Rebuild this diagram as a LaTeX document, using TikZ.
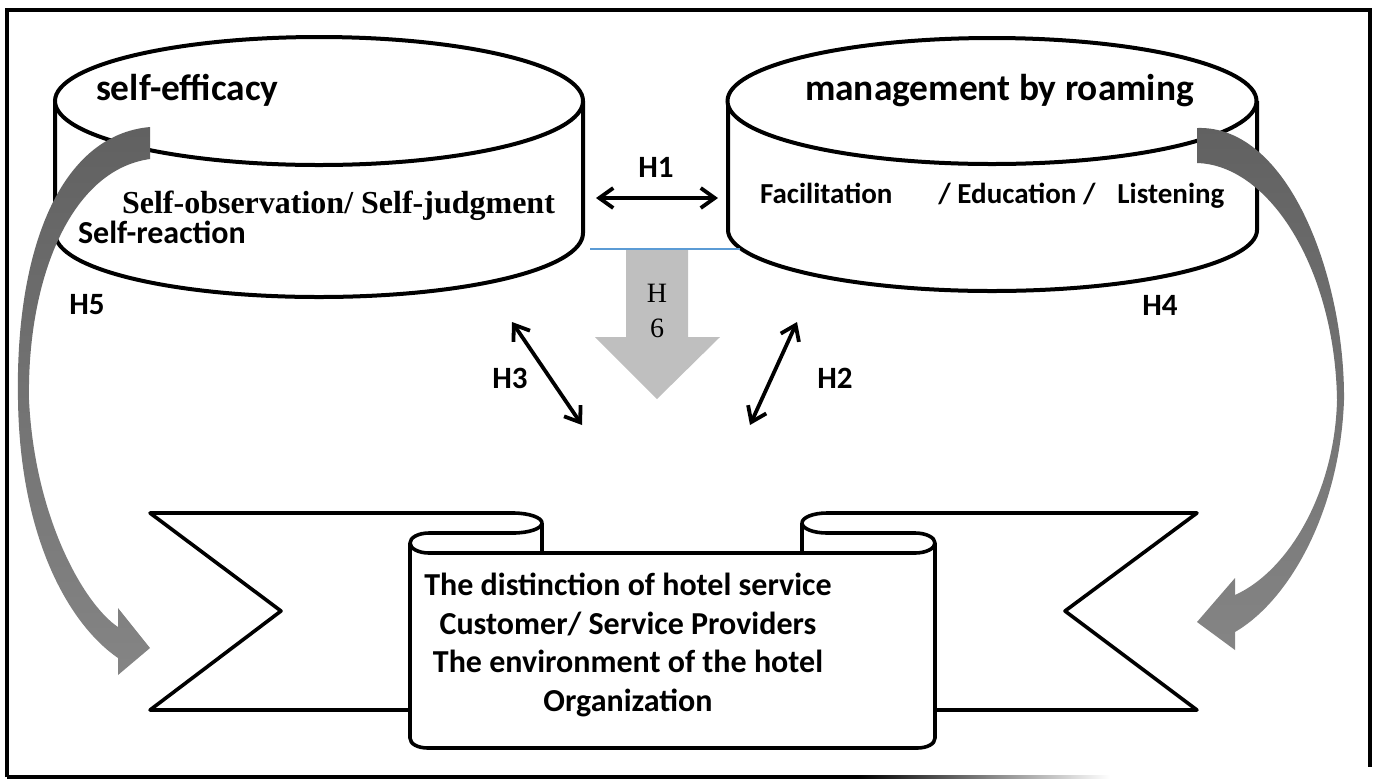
\documentclass[tikz,border=0pt]{standalone}
\usepackage{fontspec}
\setmainfont{Carlito}
\newfontfamily\timesfont{Liberation Serif}
\usetikzlibrary{arrows.meta}
\tikzstyle{outline} = [line width=2pt, fill=white]
\tikzstyle{band} = [line width=1.8pt, line join=round, fill=white]
\tikzstyle{hyp} = [{Straight Barb[length=7pt,width=10pt]}-{Straight Barb[length=7pt,width=10pt]}, line width=1.9pt]
\tikzstyle{hlabel} = [font=\bfseries\fontsize{15.5}{18}\selectfont]
\tikzstyle{title} = [anchor=base west, font=\bfseries\fontsize{18.7}{22}\selectfont]
\tikzstyle{bigarrow} = [top color=black!62, bottom color=black!48, draw=none]

\begin{document}
\begin{tikzpicture}[x=0.5pt,y=-0.5pt]
  \useasboundingbox (0,0) rectangle (1375,783);
  % frame
  \draw[line width=1.6pt] (7,777) -- (7,10) -- (1370,10) -- (1370,767);
  \draw[line width=1.9pt] (7,777) -- (860,777);
  \shade[left color=black, right color=white] (858,775.1) rectangle (1110,778.9);

  % the two cylinders
  \draw[outline] (55,101) -- (55,233) .. controls (55,269) and (173,297) .. (319,297) .. controls (465,297) and (583,269) .. (583,233) -- (583,101);
  \draw[outline] (319,101) ellipse [x radius=264, y radius=64];
  \draw[outline] (728,101) -- (728,230) .. controls (728,263) and (846,291) .. (992,291) .. controls (1139,291) and (1257,263) .. (1257,230) -- (1257,101);
  \draw[outline] (992,101) ellipse [x radius=264.5, y radius=63];

  % the scroll
  \draw[band] (410,710) -- (150,710) -- (281,611) -- (150,513) -- (513,513) .. controls (529,513) and (542,517.5) .. (542,523) .. controls (542,528.5) and (529,533) .. (513,533) -- (429,533) .. controls (418.5,533) and (410,537.5) .. (410,543);
  \draw[band] (542,523) -- (542,553);
  \draw[band] (935,710) -- (1197,710) -- (1065,611) -- (1197,513) -- (827,513) .. controls (813,513) and (802,517.5) .. (802,523) .. controls (802,528.5) and (813,533) .. (827,533) -- (915,533) .. controls (926,533) and (935,537.5) .. (935,543);
  \draw[band] (802,523) -- (802,553);
  \draw[band] (410,543) .. controls (410,548.5) and (418.5,553) .. (429,553) -- (915,553) .. controls (926,553) and (935,548.5) .. (935,543) -- (935,738) .. controls (935,744) and (927,748) .. (917,748) -- (428,748) .. controls (418,748) and (410,744) .. (410,738) -- cycle;

  % H4 and H5
  \shade[bigarrow] (150,127) .. controls (60,135) and (15,250) .. (18,400) .. controls (20,540) and (70,625) .. (118,658) -- (118,675) -- (150,648) -- (118,608) -- (118,627) .. controls (85,605) and (35,520) .. (29,400) .. controls (27,280) and (70,170) .. (150,159) -- cycle;
  \shade[bigarrow] (1197,128) .. controls (1290,125) and (1345,280) .. (1344,400) .. controls (1340,510) and (1290,600) .. (1235,632) -- (1235,650) -- (1197,622) -- (1235,578) -- (1235,595) .. controls (1290,570) and (1335,490) .. (1337,400) .. controls (1335,270) and (1270,165) .. (1197,163) -- cycle;

  % H6
  \fill[black!25] (626,249) -- (688,249) -- (688,337) -- (720,337) -- (657,399) -- (595,337) -- (626,337) -- cycle;
  \draw[line width=0.6pt, color={rgb,255:red,91;green,155;blue,213}] (590,249) -- (740,249);
  \node[align=center, font=\timesfont\fontsize{14}{17.5}\selectfont] (lab_H6) at (657,311) {H\\6};

  % texts
  \node[title] (Eff) at (89,100) {self-efficacy};
  \node[title] (MBR) at (798,100) {management by roaming};
  \node[anchor=base west, font=\timesfont\bfseries\fontsize{16}{19}\selectfont] (Eff_a) at (115,213) {Self-observation/ Self-judgment};
  \node[anchor=base west, font=\bfseries\fontsize{16}{19}\selectfont] (Eff_b) at (71,243) {Self-reaction};
  \node[anchor=base west, font=\bfseries\fontsize{14.5}{17}\selectfont] (MBR_a) at (753,203) {Facilitation\hspace{23pt}/ Education /\hspace{11pt}Listening};
  \node[align=center, font=\bfseries\fontsize{16}{19.4}\selectfont] (Svc) at (628,645) {The distinction of hotel service\\Customer/ Service Providers\\The environment of the hotel\\Organization};

  % hypotheses
  \coordinate (Eff_r) at (596,198);
  \coordinate (MBR_l) at (718,198);
  \coordinate (Eff_s) at (512,322);
  \coordinate (Svc_l) at (582,425);
  \coordinate (MBR_s) at (797,322);
  \coordinate (Svc_r) at (750,425);
  \draw[hyp] (Eff_r) -- (MBR_l);
  \draw[hyp] (Eff_s) -- (Svc_l);
  \draw[hyp] (MBR_s) -- (Svc_r);
  \node[hlabel] (lab_H1) at (656,167) {H1};
  \node[hlabel] (lab_H2) at (835,378) {H2};
  \node[hlabel] (lab_H3) at (510,378) {H3};
  \node[hlabel] (lab_H4) at (1160,305) {H4};
  \node[hlabel] (lab_H5) at (87,305) {H5};
\end{tikzpicture}
\end{document}
